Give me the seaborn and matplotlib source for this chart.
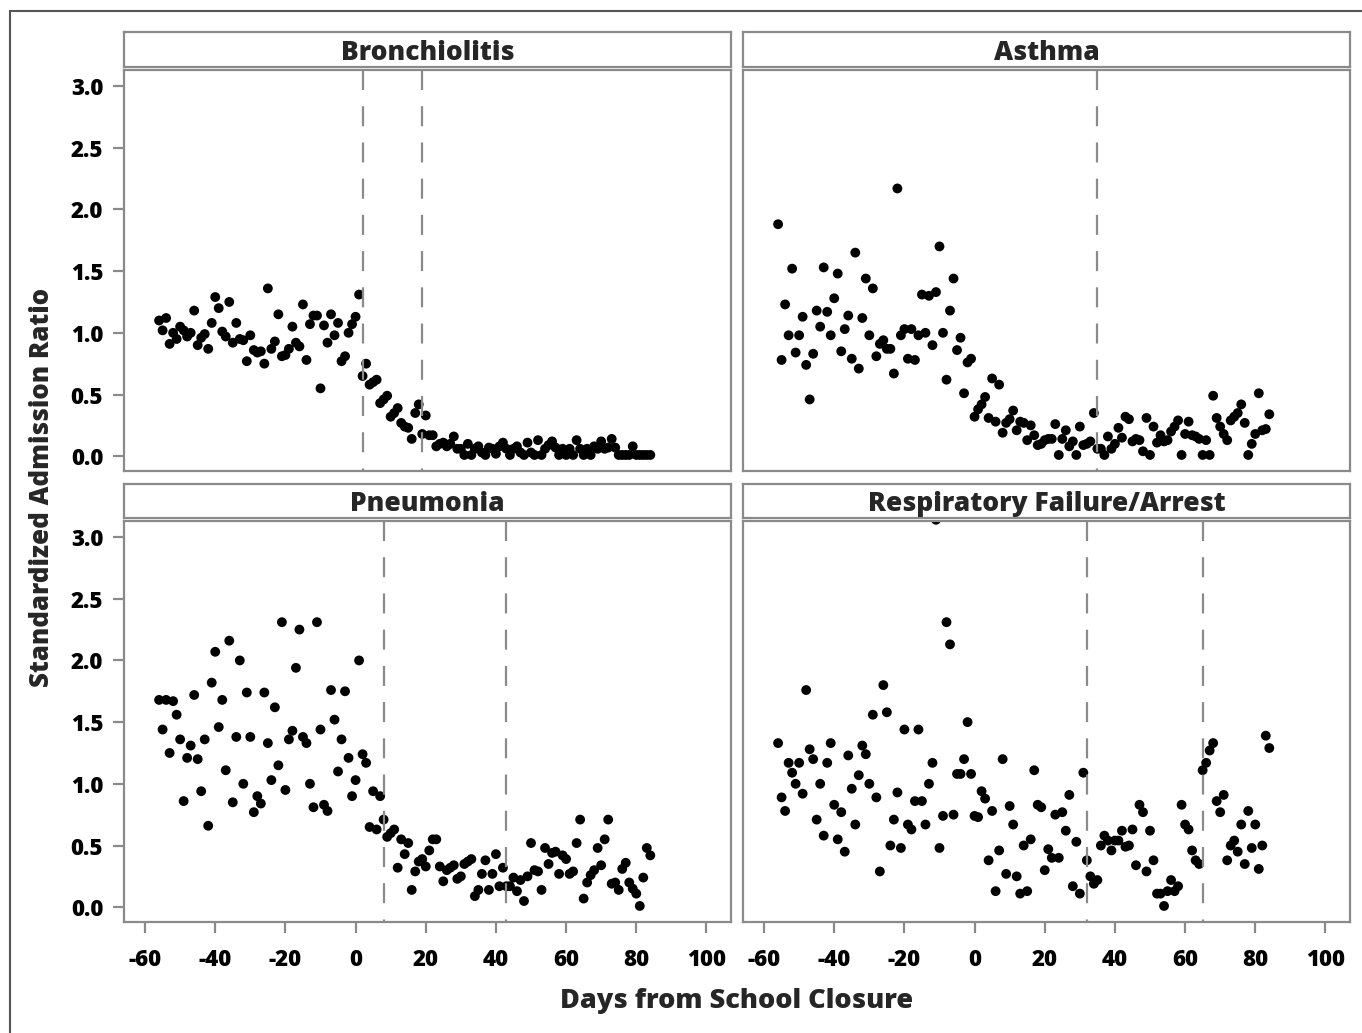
# ============================================================
# Standardized admission ratio vs. days from school closure
# 2x2 facet scatter with cut-off lines
# ============================================================

import matplotlib
matplotlib.use("Agg")

import pandas as pd
import matplotlib.pyplot as plt
from matplotlib.lines import Line2D
import seaborn as sns


# ============================================================
# 1. Data (one value per day)
# ============================================================

days = list(range(-56, 85))

bronchiolitis = [
    1.10, 1.02, 1.12, 0.91, 1.00, 0.95, 1.05, 1.02, 0.97, 1.00,
    1.18, 0.90, 0.96, 0.99, 0.87, 1.08, 1.29, 1.20, 1.01, 0.97,
    1.25, 0.92, 1.08, 0.95, 0.94, 0.77, 0.98, 0.86, 0.84, 0.85,
    0.75, 1.36, 0.87, 0.93, 1.15, 0.81, 0.82, 0.87, 1.05, 0.92,
    0.89, 1.23, 0.78, 1.07, 1.14, 1.14, 0.55, 1.06, 0.92, 1.15,
    0.98, 1.08, 0.77, 0.81, 1.00, 1.07, 1.13, 1.31, 0.65, 0.75,
    0.58, 0.60, 0.62, 0.43, 0.46, 0.49, 0.32, 0.35, 0.39, 0.27,
    0.24, 0.23, 0.14, 0.35, 0.42, 0.18, 0.33, 0.17, 0.17, 0.08,
    0.10, 0.11, 0.08, 0.10, 0.16, 0.06, 0.06, 0.01, 0.10, 0.01,
    0.06, 0.08, 0.03, 0.01, 0.07, 0.06, 0.02, 0.08, 0.11, 0.06,
    0.01, 0.06, 0.08, 0.03, 0.01, 0.11, 0.03, 0.01, 0.13, 0.01,
    0.06, 0.09, 0.12, 0.07, 0.01, 0.06, 0.01, 0.06, 0.01, 0.13,
    0.06, 0.01, 0.06, 0.01, 0.08, 0.06, 0.12, 0.06, 0.07, 0.14,
    0.07, 0.01, 0.01, 0.01, 0.01, 0.08, 0.01, 0.01, 0.01, 0.01,
    0.01,
]

asthma = [
    1.88, 0.78, 1.23, 0.98, 1.52, 0.84, 0.98, 1.13, 0.74, 0.46,
    0.83, 1.18, 1.05, 1.53, 1.17, 0.98, 1.28, 1.48, 0.85, 1.03,
    1.14, 0.79, 1.65, 0.71, 1.12, 1.44, 0.98, 1.36, 0.81, 0.91,
    0.94, 0.87, 0.87, 0.67, 2.17, 0.98, 1.03, 0.79, 1.03, 0.78,
    0.98, 1.31, 1.00, 1.30, 0.90, 1.33, 1.70, 1.00, 0.62, 1.18,
    1.44, 0.86, 0.96, 0.51, 0.76, 0.79, 0.32, 0.38, 0.42, 0.48,
    0.31, 0.63, 0.28, 0.58, 0.19, 0.27, 0.30, 0.37, 0.21, 0.28,
    0.27, 0.13, 0.25, 0.17, 0.09, 0.10, 0.13, 0.14, 0.14, 0.26,
    0.01, 0.14, 0.21, 0.08, 0.12, 0.01, 0.24, 0.09, 0.10, 0.12,
    0.35, 0.06, 0.06, 0.01, 0.16, 0.06, 0.10, 0.23, 0.15, 0.32,
    0.30, 0.12, 0.14, 0.13, 0.04, 0.31, 0.01, 0.24, 0.11, 0.17,
    0.12, 0.13, 0.20, 0.24, 0.29, 0.01, 0.18, 0.28, 0.17, 0.16,
    0.14, 0.01, 0.13, 0.01, 0.49, 0.31, 0.24, 0.18, 0.13, 0.29,
    0.32, 0.35, 0.42, 0.27, 0.01, 0.10, 0.18, 0.51, 0.21, 0.22,
    0.34,
]

pneumonia = [
    1.68, 1.44, 1.68, 1.25, 1.67, 1.56, 1.36, 0.86, 1.21, 1.31,
    1.72, 1.20, 0.94, 1.36, 0.66, 1.82, 2.07, 1.46, 1.68, 1.11,
    2.16, 0.85, 1.38, 2.00, 1.00, 1.74, 1.38, 0.77, 0.90, 0.84,
    1.74, 1.33, 1.03, 1.62, 1.15, 2.31, 0.95, 1.36, 1.43, 1.94,
    2.25, 1.38, 1.33, 1.00, 0.81, 2.31, 1.44, 0.83, 0.78, 1.76,
    1.52, 1.10, 1.36, 1.75, 1.21, 0.90, 1.03, 2.00, 1.24, 1.17,
    0.65, 0.94, 0.63, 0.90, 0.71, 0.57, 0.60, 0.63, 0.32, 0.55,
    0.43, 0.52, 0.14, 0.29, 0.37, 0.39, 0.33, 0.46, 0.55, 0.55,
    0.33, 0.21, 0.30, 0.32, 0.34, 0.23, 0.25, 0.35, 0.37, 0.39,
    0.09, 0.14, 0.27, 0.38, 0.14, 0.27, 0.43, 0.17, 0.32, 0.17,
    0.17, 0.24, 0.13, 0.22, 0.05, 0.25, 0.52, 0.30, 0.29, 0.14,
    0.48, 0.35, 0.44, 0.45, 0.27, 0.42, 0.39, 0.27, 0.29, 0.52,
    0.71, 0.07, 0.20, 0.26, 0.30, 0.48, 0.34, 0.55, 0.71, 0.19,
    0.20, 0.14, 0.31, 0.36, 0.20, 0.15, 0.11, 0.01, 0.24, 0.48,
    0.42,
]

respiratory = [
    1.33, 0.89, 0.78, 1.17, 1.09, 1.00, 1.17, 0.92, 1.76, 1.28,
    1.20, 0.71, 1.00, 0.58, 1.17, 1.33, 0.83, 0.55, 0.77, 0.45,
    1.23, 0.96, 0.67, 1.07, 1.31, 1.24, 1.00, 1.56, 0.89, 0.29,
    1.80, 1.58, 0.50, 0.71, 0.93, 0.48, 1.44, 0.67, 0.63, 0.86,
    1.44, 0.86, 0.67, 1.00, 1.17, 3.14, 0.48, 0.74, 2.31, 2.13,
    0.75, 1.08, 1.08, 1.20, 1.50, 1.08, 0.74, 0.73, 0.94, 0.88,
    0.38, 0.78, 0.13, 0.46, 1.20, 0.27, 0.82, 0.67, 0.25, 0.11,
    0.50, 0.13, 0.55, 1.11, 0.83, 0.81, 0.30, 0.47, 0.40, 0.75,
    0.40, 0.77, 0.62, 0.91, 0.17, 0.53, 0.11, 1.09, 0.38, 0.25,
    0.19, 0.22, 0.50, 0.58, 0.54, 0.46, 0.54, 0.54, 0.62, 0.49,
    0.50, 0.63, 0.34, 0.83, 0.77, 0.29, 0.62, 0.38, 0.11, 0.11,
    0.01, 0.13, 0.22, 0.13, 0.17, 0.83, 0.67, 0.63, 0.46, 0.38,
    0.35, 1.11, 1.17, 1.27, 1.33, 0.86, 0.77, 0.91, 0.38, 0.50,
    0.54, 0.45, 0.67, 0.35, 0.78, 0.48, 0.67, 0.31, 0.50, 1.39,
    1.29,
]

panel_names = [
    "Bronchiolitis",
    "Asthma",
    "Pneumonia",
    "Respiratory Failure/Arrest",
]

panel_values = [bronchiolitis, asthma, pneumonia, respiratory]

# Dashed reference lines (days) for each panel.
cutoff_days = [[2, 19], [35], [8, 43], [32, 65]]

x_ticks = [-60, -40, -20, 0, 20, 40, 60, 80, 100]
y_ticks = [0.0, 0.5, 1.0, 1.5, 2.0, 2.5, 3.0]

frames = []
for name, values in zip(panel_names, panel_values):
    frames.append(pd.DataFrame({"day": days, "ratio": values, "condition": name}))
df = pd.concat(frames, ignore_index=True)


# ============================================================
# 2. Style
# ============================================================

sns.set_theme(style="white")
plt.rcParams["font.family"] = ["Open Sans", "DejaVu Sans"]
plt.rcParams["axes.unicode_minus"] = False

GRAY = "#8a8a8a"
WEIGHT = "heavy"
W, H = 1362, 1033


def px_box(x0, y0, x1, y1):
    """Pixel box (top-left origin) -> figure fraction rect."""
    return [x0 / W, 1 - y1 / H, (x1 - x0) / W, (y1 - y0) / H]


# ============================================================
# 3. Facet grid
# ============================================================

g = sns.FacetGrid(
    df,
    col="condition",
    col_order=panel_names,
    col_wrap=2,
    sharex=True,
    sharey=True,
    despine=False,
    height=4,
    aspect=1.5,
)
g.map_dataframe(
    sns.scatterplot,
    x="day",
    y="ratio",
    color="black",
    s=50,
    edgecolor="none",
    zorder=2,
)

fig = g.figure
fig.set_size_inches(W / 100, H / 100)

col_x = [(124, 731), (743, 1350)]
row_y = [(70, 471), (521, 922)]
strip_y = [(32, 67), (484, 518)]

for i, ax in enumerate(g.axes.flat):
    row, col = divmod(i, 2)
    x0, x1 = col_x[col]
    y0, y1 = row_y[row]
    ax.set_position(px_box(x0, y0, x1, y1))

    ax.set_title("")
    ax.set_xlabel("")
    ax.set_ylabel("")
    ax.set_xlim(-66, 107)
    ax.set_ylim(-0.12, 3.13)
    ax.set_xticks(x_ticks)
    ax.set_yticks(y_ticks)
    ax.set_xticklabels([str(t) for t in x_ticks])
    ax.set_yticklabels([f"{t:.1f}" for t in y_ticks])

    for spine in ax.spines.values():
        spine.set_color(GRAY)
        spine.set_linewidth(1.6)

    ax.tick_params(
        axis="both",
        direction="out",
        length=8,
        width=1.6,
        color=GRAY,
        labelsize=16,
        labelcolor="black",
        pad=7,
    )
    ax.tick_params(axis="x", pad=11)
    for lab in ax.get_xticklabels() + ax.get_yticklabels():
        lab.set_fontweight(WEIGHT)

    if row == 0:
        ax.tick_params(axis="x", bottom=False, labelbottom=False)
    else:
        ax.tick_params(axis="x", bottom=True, labelbottom=True)
    if col == 1:
        ax.tick_params(axis="y", left=False, labelleft=False)
    else:
        ax.tick_params(axis="y", left=True, labelleft=True)

    # Dashed cut-off lines, drawn from the top down.
    for d in cutoff_days[i]:
        ax.plot(
            [d, d], [1, 0],
            transform=ax.get_xaxis_transform(),
            color=GRAY,
            linewidth=1.6,
            dashes=(9.0, 7.3),
            zorder=3,
        )

    # Header strip with the panel title.
    sy0, sy1 = strip_y[row]
    strip = fig.add_axes(px_box(x0, sy0, x1, sy1))
    strip.set_xticks([])
    strip.set_yticks([])
    strip.set_facecolor("white")
    for spine in strip.spines.values():
        spine.set_color(GRAY)
        spine.set_linewidth(1.6)
    strip.text(
        0.5, 0.40, panel_names[i],
        ha="center", va="center",
        fontsize=19, fontweight=WEIGHT,
        transform=strip.transAxes,
    )


# ============================================================
# 4. Shared labels and outer frame
# ============================================================

fig.text(
    737 / W, 1 - 1001 / H, "Days from School Closure",
    ha="center", va="center", fontsize=19.5, fontweight=WEIGHT,
)
fig.text(
    42 / W, 1 - 487 / H, "Standardized Admission Ratio",
    ha="center", va="center", rotation=90, fontsize=18.6, fontweight=WEIGHT,
)

fx, fy = 10 / W, 1 - 11 / H
fig.add_artist(Line2D([fx, fx], [0, fy], color="#555555", linewidth=1.5))
fig.add_artist(Line2D([fx, 1], [fy, fy], color="#555555", linewidth=1.5))

fig.savefig("out.png", dpi=100)
plt.close(fig)
